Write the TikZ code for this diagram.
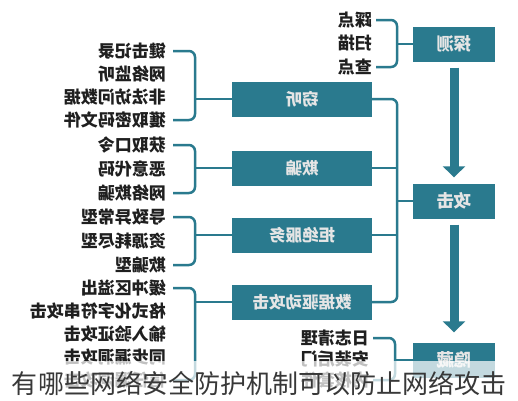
\documentclass[tikz,border=0pt]{standalone}
\usepackage{fontspec}
\usepackage{graphicx}
\setmainfont{Noto Sans CJK SC}
\newfontfamily\cjk{Noto Sans CJK SC}
\usetikzlibrary{arrows.meta}
\definecolor{teal1}{RGB}{42,122,142}
\begin{document}
\begin{tikzpicture}[x=1pt,y=-1pt,
  box/.style={fill=teal1, text=white!90!black, font=\cjk\bfseries\fontsize{16.5}{16.5}\selectfont, minimum height=35pt, inner sep=0pt},
  rbox/.style={box, minimum width=82pt, font=\cjk\bfseries\fontsize{17.5}{17.5}\selectfont},
  mbox/.style={box, minimum width=140pt},
  item/.style={anchor=east, font=\cjk\bfseries\fontsize{17}{17}\selectfont, inner sep=0pt, text=black!88},
  conn/.style={draw=teal1, line width=2.5pt, rounded corners=6pt},
  flow/.style={draw=teal1, line width=9pt, -{Triangle[width=22pt,length=11pt]}}]
\useasboundingbox (0,0) rectangle (518,400);
\fill[white] (0,0) rectangle (518,400);
% right column
\node[rbox] (tance) at (454,44) {\reflectbox{探测}};
\node[rbox] (gongji) at (454,201) {\reflectbox{攻击}};
\node[rbox] (yincang) at (454,360) {\reflectbox{隐藏}};
% middle column
\node[mbox] (qieting) at (302,99) {\reflectbox{窃听}};
\node[mbox] (qipian) at (302,168) {\reflectbox{欺骗}};
\node[mbox] (jujue) at (302,235) {\reflectbox{拒绝服务}};
\node[mbox] (sjqd) at (302,302) {\reflectbox{数据驱动攻击}};
% flow arrows
\draw[flow, shorten <=6pt, shorten >=6pt] (tance) -- (gongji);
\draw[flow, shorten <=6pt, shorten >=10pt] (gongji) -- (yincang);
% tance items
\node[item] (c1) at (372,20) {\reflectbox{踩点}};
\node[item] (c2) at (372,43) {\reflectbox{扫描}};
\node[item] (c3) at (372,67) {\reflectbox{查点}};
\draw[conn] ([xshift=4pt]c1.east) -- ++(21,0) |- ([xshift=4pt]c3.east);
\draw[conn] (tance.west) -- ++(-16,0);
% qieting items
\node[item] (a1) at (166,51) {\reflectbox{键击记录}};
\node[item] (a2) at (166,74) {\reflectbox{网络监听}};
\node[item] (a3) at (166,97) {\reflectbox{非法访问数据}};
\node[item] (a4) at (166,120) {\reflectbox{獲取密码文件}};
\draw[conn] ([xshift=7pt]a1.east) -- ++(22,0) |- ([xshift=7pt]a4.east);
\draw[conn] (qieting.west) -- ++(-37,0);
% qipian items
\node[item] (b1) at (166,145) {\reflectbox{获取口令}};
\node[item] (b2) at (166,169) {\reflectbox{恶意代码}};
\node[item] (b3) at (166,193) {\reflectbox{网络欺骗}};
\draw[conn] ([xshift=7pt]b1.east) -- ++(22,0) |- ([xshift=7pt]b3.east);
\draw[conn] (qipian.west) -- ++(-37,0);
% jujue items
\node[item] (d1) at (166,217) {\reflectbox{导致异常型}};
\node[item] (d2) at (166,241) {\reflectbox{资源耗尽型}};
\node[item] (d3) at (166,265) {\reflectbox{欺骗型}};
\draw[conn] ([xshift=7pt]d1.east) -- ++(22,0) |- ([xshift=7pt]d3.east);
\draw[conn] (jujue.west) -- ++(-37,0);
% sjqd items
\node[item] (e1) at (166,288) {\reflectbox{缓冲区溢出}};
\node[item] (e2) at (166,311) {\reflectbox{格式化字符串攻击}};
\node[item] (e3) at (166,334) {\reflectbox{输入验证攻击}};
\node[item] (e4) at (166,357) {\reflectbox{同步漏洞攻击}};
\node[item] (e5) at (166,380) {\reflectbox{信任漏洞攻击}};
\draw[conn] ([xshift=7pt]e1.east) -- ++(22,0) |- ([xshift=7pt]e5.east);
\draw[conn] (sjqd.west) -- ++(-37,0);
% attack bus
\draw[conn] (qieting.east) -- ++(25,0) |- (sjqd.east);
\draw[conn] (qipian.east) -- ++(25,0);
\draw[conn] (jujue.east) -- ++(25,0);
\draw[conn] (gongji.west) -- ++(-16,0);
% yincang items
\node[item] (h1) at (369,338) {\reflectbox{日志清理}};
\node[item] (h2) at (369,359) {\reflectbox{安装后门}};
\node[item] (h3) at (369,380) {\reflectbox{内核套件}};
\draw[conn] ([xshift=4pt]h1.east) -- ++(22,0) |- ([xshift=4pt]h3.east);
\draw[conn] (yincang.west) -- ++(-17,0);
% caption band
\fill[white, opacity=0.72] (0,361) rectangle (518,400);
\node[font=\cjk\fontsize{26}{26}\selectfont, text=black!78, inner sep=0pt] (cap) at (259,384) {有哪些网络安全防护机制可以防止网络攻击};
\end{tikzpicture}
\end{document}
